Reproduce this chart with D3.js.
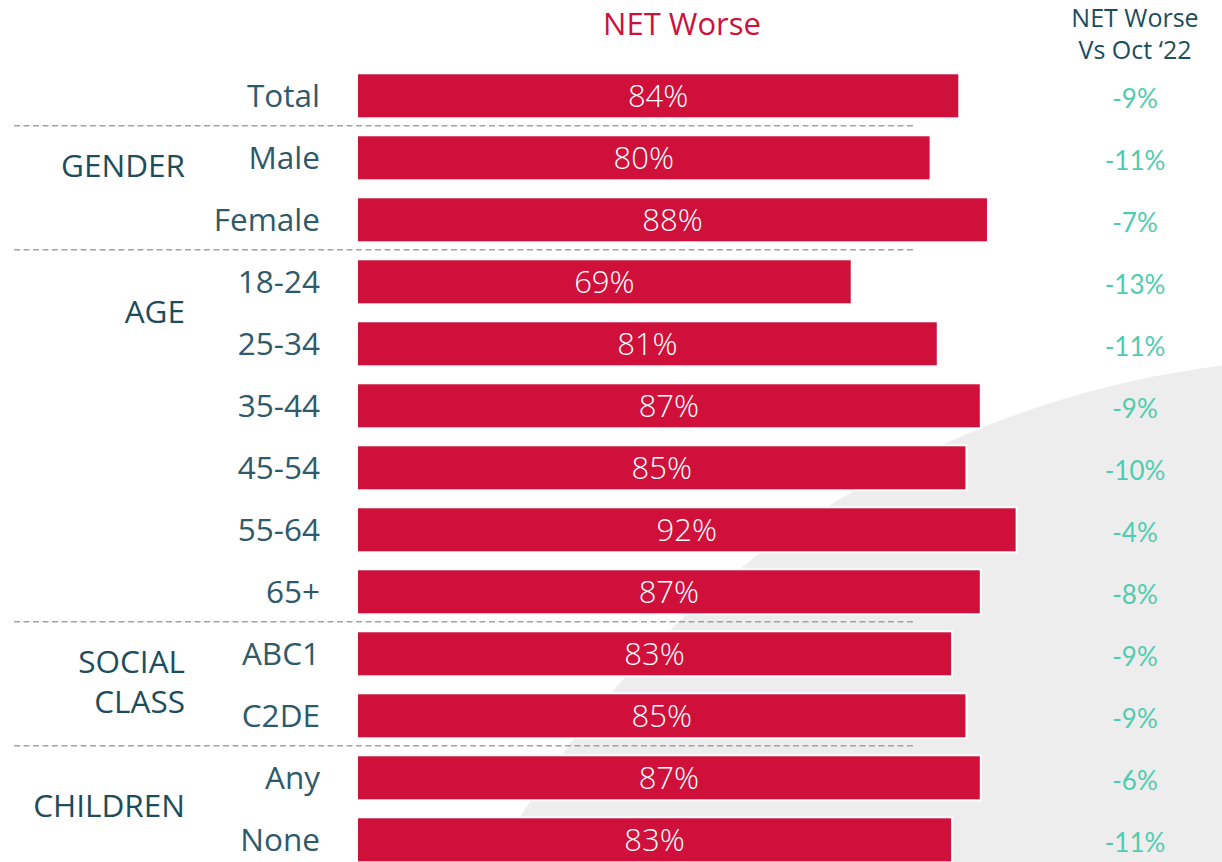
<!DOCTYPE html>
<html>
<head>
<meta charset="utf-8">
<script src="https://cdn.jsdelivr.net/npm/d3@7"></script>
<style>
  html, body { margin: 0; padding: 0; background: #ffffff; }
  svg { display: block; }
</style>
</head>
<body>
<svg id="chart" width="1222" height="862"></svg>
<script>
// ---- data ----
const categories = ["Total", "Male", "Female", "18-24", "25-34", "35-44", "45-54", "55-64", "65+", "ABC1", "C2DE", "Any", "None"];
const netWorse = [84, 80, 88, 69, 81, 87, 85, 92, 87, 83, 85, 87, 83];
const vsOct22 = [-9, -11, -7, -13, -11, -9, -10, -4, -8, -9, -9, -6, -11];
const groupNames = ["GENDER", "AGE", "SOCIAL", "CLASS", "CHILDREN"];
const groupRowPos = [1.13, 3.48, 9.13, 9.77, 11.45];   // fractional row position of group label
const separatorsAfter = ["Total", "Female", "65+", "C2DE"];
const title = "NET Worse";
const rightTitle = ["NET Worse", "Vs Oct \u201822"];

// ---- setup ----
const svg = d3.select("#chart");

const x = d3.scaleLinear().domain([0, 100]).range([357, 1074]);
const y = d3.scaleBand().domain(categories).range([64.8, 870.8]).paddingInner(0.274).paddingOuter(0.137);
const bh = y.bandwidth();
const rowC = c => y(c) + bh / 2;
const rowAt = f => y(categories[0]) + bh / 2 + f * y.step();

// background arc
svg.append("circle")
  .attr("cx", 1342).attr("cy", 1323).attr("r", 965)
  .attr("fill", "#ededed");

// separators
svg.selectAll("line.sep").data(separatorsAfter).enter().append("line")
  .attr("class", "sep")
  .attr("x1", 14).attr("x2", 915)
  .attr("y1", d => y(d) + bh + (y.step() - bh) / 2 - 1)
  .attr("y2", d => y(d) + bh + (y.step() - bh) / 2 - 1)
  .attr("stroke", "#a3a3a3").attr("stroke-width", 1.5)
  .attr("stroke-dasharray", "6,3.5");

// bars
svg.selectAll("rect.bar").data(categories).enter().append("rect")
  .attr("class", "bar")
  .attr("x", x(0))
  .attr("y", d => y(d))
  .attr("width", (d, i) => x(netWorse[i]) - x(0))
  .attr("height", bh)
  .attr("fill", "#cf103a")
  .attr("stroke", "#ffffff").attr("stroke-width", 2);

// bar labels
svg.selectAll("text.val").data(categories).enter().append("text")
  .attr("x", (d, i) => (x(0) + x(netWorse[i])) / 2)
  .attr("y", d => rowC(d))
  .attr("dy", "0.36em")
  .attr("text-anchor", "middle")
  .attr("font-family", "'Open Sans', sans-serif")
  .attr("font-weight", 300)
  .attr("font-size", 31)
  .attr("fill", "#ffffff")
  .text((d, i) => netWorse[i] + "%");

// category labels
svg.selectAll("text.cat").data(categories).enter().append("text")
  .attr("x", 320)
  .attr("y", d => rowC(d))
  .attr("dy", "0.36em")
  .attr("text-anchor", "end")
  .attr("font-family", "'Open Sans', sans-serif")
  .attr("font-size", 31.5)
  .attr("fill", "#2f5a6a")
  .text(d => d);

// group labels
svg.selectAll("text.grp").data(groupNames).enter().append("text")
  .attr("x", 185)
  .attr("y", (d, i) => rowAt(groupRowPos[i]))
  .attr("dy", "0.36em")
  .attr("text-anchor", "end")
  .attr("font-family", "'Open Sans', sans-serif")
  .attr("font-weight", 500)
  .attr("font-size", 31.5)
  .attr("fill", "#1d4d5c")
  .text(d => d);

// right-hand change values
svg.selectAll("text.chg").data(categories).enter().append("text")
  .attr("x", 1135)
  .attr("y", d => rowC(d) + 3)
  .attr("dy", "0.36em")
  .attr("text-anchor", "middle")
  .attr("font-family", "Lato, sans-serif")
  .attr("font-size", 26)
  .attr("fill", "#4ccdb1")
  .text((d, i) => vsOct22[i] + "%");

// titles
svg.append("text")
  .attr("x", 682).attr("y", 24).attr("dy", "0.36em")
  .attr("text-anchor", "middle")
  .attr("font-family", "'Open Sans', sans-serif")
  .attr("font-size", 31)
  .attr("fill", "#cf103a")
  .text(title);

svg.selectAll("text.rt").data(rightTitle).enter().append("text")
  .attr("x", 1135)
  .attr("y", (d, i) => 18 + i * 32)
  .attr("dy", "0.36em")
  .attr("text-anchor", "middle")
  .attr("font-family", "'Open Sans', sans-serif")
  .attr("font-size", 25)
  .attr("fill", "#1d4d5c")
  .text(d => d);
</script>
</body>
</html>
